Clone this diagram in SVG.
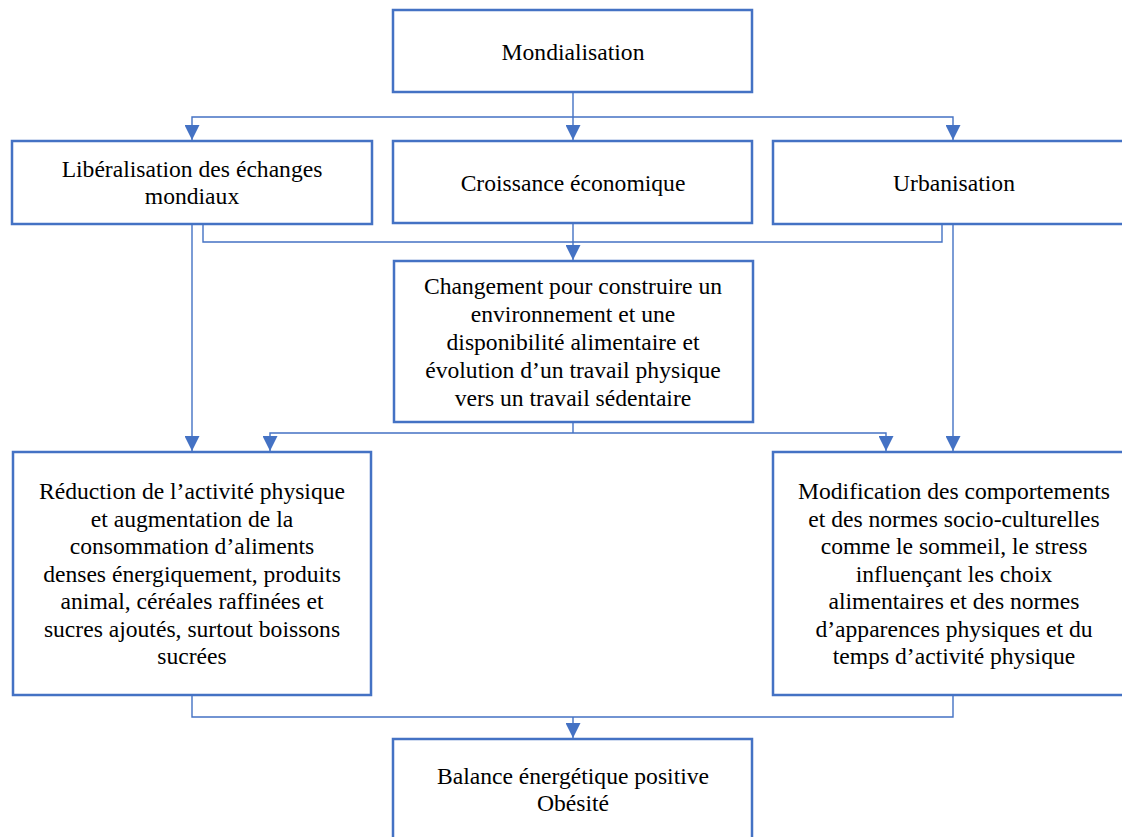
<svg xmlns="http://www.w3.org/2000/svg" width="1122" height="837" viewBox="0 0 1122 837">
  <style>
    .box { fill: #ffffff; stroke: #4472C4; stroke-width: 2.5; }
    .lbl { font-family: "Liberation Serif", "Times New Roman", serif; font-size: 23.6px; fill: #000000; text-anchor: middle; }
    .wire { fill: none; stroke: #4472C4; stroke-width: 1.4; }
    .arr { marker-end: url(#head); }
  </style>
  <defs>
    <marker id="head" markerUnits="userSpaceOnUse" markerWidth="15" markerHeight="15" refX="15" refY="7.5" orient="auto">
      <path d="M0,0 L15,7.5 L0,15 Z" fill="#4472C4"/>
    </marker>
  </defs>
  <rect width="1122" height="837" fill="#ffffff"/>

  <g id="mondialisation">
    <rect class="box" x="393" y="10" width="359" height="82"/>
    <text class="lbl" x="573" y="60">Mondialisation</text>
  </g>

  <g id="liberalisation">
    <rect class="box" x="12" y="141" width="360" height="83"/>
    <text class="lbl" x="192" y="177">Libéralisation des échanges</text>
    <text class="lbl" x="192" y="204">mondiaux</text>
  </g>

  <g id="croissance">
    <rect class="box" x="393" y="141" width="359" height="82"/>
    <text class="lbl" x="573" y="191">Croissance économique</text>
  </g>

  <g id="urbanisation">
    <rect class="box" x="773" y="141" width="362" height="83"/>
    <text class="lbl" x="954" y="191">Urbanisation</text>
  </g>

  <g id="changement">
    <rect class="box" x="394" y="261" width="359" height="161"/>
    <text class="lbl" x="573" y="294.3">Changement pour construire un</text>
    <text class="lbl" x="573" y="322.1">environnement et une</text>
    <text class="lbl" x="573" y="350">disponibilité alimentaire et</text>
    <text class="lbl" x="573" y="377.8">évolution d’un travail physique</text>
    <text class="lbl" x="573" y="405.7">vers un travail sédentaire</text>
  </g>

  <g id="reduction">
    <rect class="box" x="13" y="452" width="358" height="243"/>
    <text class="lbl" x="192" y="499.3">Réduction de l’activité physique</text>
    <text class="lbl" x="192" y="526.8">et augmentation de la</text>
    <text class="lbl" x="192" y="554.3">consommation d’aliments</text>
    <text class="lbl" x="192" y="581.8">denses énergiquement, produits</text>
    <text class="lbl" x="192" y="609.3">animal, céréales raffinées et</text>
    <text class="lbl" x="192" y="636.8">sucres ajoutés, surtout boissons</text>
    <text class="lbl" x="192" y="664.3">sucrées</text>
  </g>

  <g id="modification">
    <rect class="box" x="773" y="452" width="362" height="243"/>
    <text class="lbl" x="954" y="499.3">Modification des comportements</text>
    <text class="lbl" x="954" y="526.8">et des normes socio-culturelles</text>
    <text class="lbl" x="954" y="554.3">comme le sommeil, le stress</text>
    <text class="lbl" x="954" y="581.8">influençant les choix</text>
    <text class="lbl" x="954" y="609.3">alimentaires et des normes</text>
    <text class="lbl" x="954" y="636.8">d’apparences physiques et du</text>
    <text class="lbl" x="954" y="664.3">temps d’activité physique</text>
  </g>

  <g id="balance">
    <rect class="box" x="393" y="739" width="359" height="120"/>
    <text class="lbl" x="573" y="784">Balance énergétique positive</text>
    <text class="lbl" x="573" y="811">Obésité</text>
  </g>

  <g id="connectors">
    <!-- Mondialisation fan-out -->
    <polyline class="wire arr" points="573,92 573,140"/>
    <polyline class="wire arr" points="573,117 192,117 192,140"/>
    <polyline class="wire arr" points="573,117 953,117 953,140"/>
    <!-- the three drivers merge into Changement -->
    <polyline class="wire" points="203,224 203,242 942,242 942,224"/>
    <polyline class="wire arr" points="573,223 573,260"/>
    <!-- direct links down to the outcome boxes -->
    <polyline class="wire arr" points="192,224 192,451"/>
    <polyline class="wire arr" points="953,224 953,451"/>
    <!-- Changement fan-out -->
    <polyline class="wire" points="573,422 573,433"/>
    <polyline class="wire arr" points="573,433 270,433 270,451"/>
    <polyline class="wire arr" points="573,433 886,433 886,451"/>
    <!-- both outcomes merge into Balance -->
    <polyline class="wire" points="192,695 192,717 953,717 953,695"/>
    <polyline class="wire arr" points="573,717 573,738"/>
  </g>
</svg>
